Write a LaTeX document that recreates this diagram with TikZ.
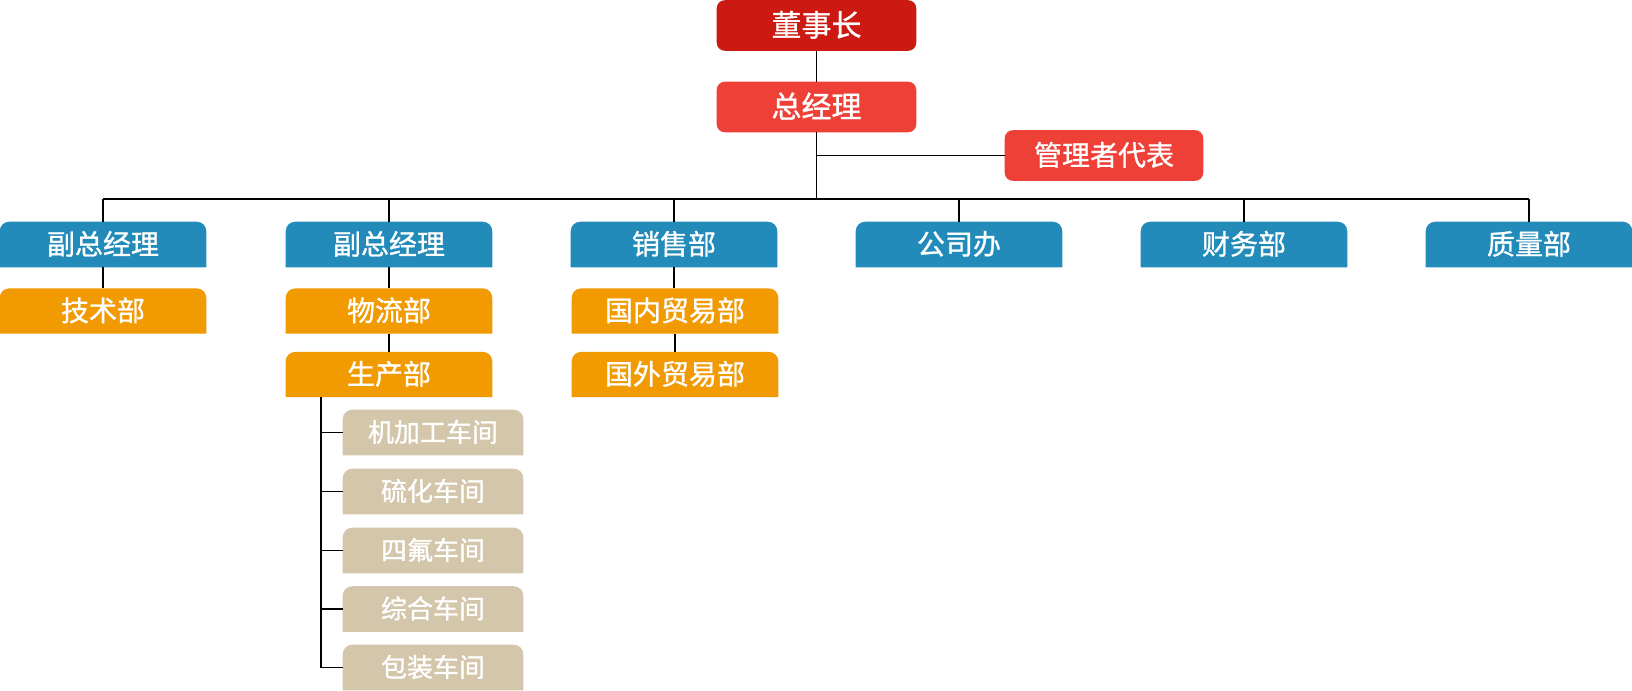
\documentclass[tikz,border=0pt]{standalone}
\usepackage{fontspec}
\newfontfamily\cjk{Noto Sans CJK SC}[FakeBold=1]
\usetikzlibrary{backgrounds}
\definecolor{topred}{HTML}{CC1A12}
\definecolor{midred}{HTML}{EE4037}
\definecolor{deptblue}{HTML}{228BBA}
\definecolor{suborange}{HTML}{F29A02}
\definecolor{shopbeige}{HTML}{D3C6AA}
\newcommand\tbfill[3]{\fill[#2] (#1.south west) -- ([yshift=-#3]#1.north west) arc[start angle=180,end angle=90,radius=#3] -- ([xshift=-#3]#1.north east) arc[start angle=90,end angle=0,radius=#3] -- (#1.south east) -- cycle;}
\newcommand\rbfill[2]{\fill[#2, rounded corners=6pt] (#1.south west) rectangle (#1.north east);}
\tikzset{
  box/.style={inner sep=0pt, text=white, text height=17pt, text depth=2pt,
    font=\cjk\fontsize{21pt}{21pt}\selectfont},
  topbox/.style={box, minimum width=149.25pt, minimum height=37.5pt, text height=18pt, font=\cjk\fontsize{22.5pt}{22.5pt}\selectfont},
  repbox/.style={box, minimum width=148.5pt, minimum height=37.5pt},
  deptbox/.style={box, minimum width=154.5pt, minimum height=33.75pt},
  subbox/.style={box, minimum width=154.5pt, minimum height=33.5pt},
  shopbox/.style={box, minimum width=135pt, minimum height=33.75pt, text height=16pt, font=\cjk\fontsize{19.5pt}{19.5pt}\selectfont},
  link/.style={draw=black, line width=0.8pt}
}
\begin{document}
\begin{tikzpicture}[x=0.75pt,y=-0.75pt]
\useasboundingbox (0,0) rectangle (1632,690);
% top
\node[topbox] (ceo) at (816.5,25.5) {董事长};
\node[topbox] (gm) at (816.5,107) {总经理};
\node[repbox] (rep) at (1104,155.5) {管理者代表};
% departments
\node[deptbox] (vp1) at (103,244.5) {副总经理};
\node[deptbox] (vp2) at (389,244.5) {副总经理};
\node[deptbox] (sales) at (674,244.5) {销售部};
\node[deptbox] (office) at (959,244.5) {公司办};
\node[deptbox] (fin) at (1244,244.5) {财务部};
\node[deptbox] (qual) at (1529,244.5) {质量部};
% sub departments
\node[subbox] (tech) at (103,311) {技术部};
\node[subbox] (logi) at (389,311) {物流部};
\node[subbox] (prod) at (389,374.5) {生产部};
\node[subbox] (dom) at (675,311) {国内贸易部};
\node[subbox] (intl) at (675,374.5) {国外贸易部};
% workshops
\node[shopbox] (ws1) at (433,432.5) {机加工车间};
\node[shopbox] (ws2) at (433,491.5) {硫化车间};
\node[shopbox] (ws3) at (433,550.5) {四氟车间};
\node[shopbox] (ws4) at (433,609) {综合车间};
\node[shopbox] (ws5) at (433,667.5) {包装车间};
\coordinate (bus) at (816,199);
\coordinate (spine) at (321,397);
% fills
\begin{scope}[on background layer]
\rbfill{ceo}{topred}
\rbfill{gm}{midred}
\rbfill{rep}{midred}
\foreach \n in {vp1,vp2,sales,office,fin,qual}{\tbfill{\n}{deptblue}{7pt}}
\foreach \n in {tech,logi,prod,dom,intl}{\tbfill{\n}{suborange}{7pt}}
\foreach \n in {ws1,ws2,ws3,ws4,ws5}{\tbfill{\n}{shopbeige}{7pt}}
\end{scope}
% connectors
\draw[link] (ceo.south) -- (gm.south |- ceo.south) -- (gm.north);
\draw[link] (gm.south) -- (gm.south |- bus);
\draw[link] (gm.south |- rep.west) -- (rep.west);
\draw[link] (vp1.north |- bus) -- (qual.north |- bus);
\foreach \n in {vp1,vp2,sales,office,fin,qual}{\draw[link] (\n.north |- bus) -- (\n.north);}
\draw[link] (vp1.south) -- (tech.north);
\draw[link] (vp2.south) -- (logi.north);
\draw[link] (logi.south) -- (prod.north);
\draw[link] (sales.south) -- (sales.south |- dom.north);
\draw[link] (dom.south) -- (intl.north);
\draw[link] (prod.south -| spine) -- (spine |- ws5.west);
\foreach \n in {ws1,ws2,ws3,ws4,ws5}{\draw[link] (spine |- \n.west) -- (\n.west);}
\end{tikzpicture}
\end{document}
